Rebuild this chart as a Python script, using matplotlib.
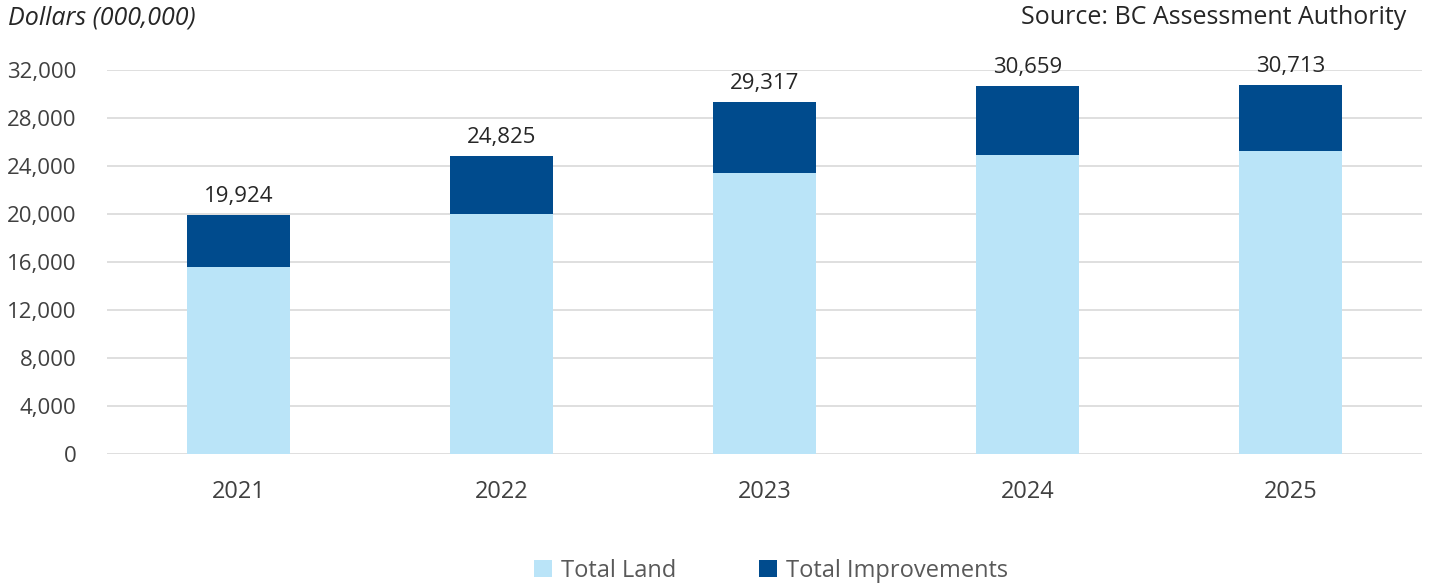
import matplotlib.pyplot as plt
from matplotlib.ticker import FuncFormatter

plt.rcParams['font.family'] = ['Open Sans', 'DejaVu Sans']

years = ['2021', '2022', '2023', '2024', '2025']
total_land = [15550, 19980, 23420, 24910, 25250]
totals = [19924, 24825, 29317, 30659, 30713]
total_improvements = [t - l for t, l in zip(totals, total_land)]

land_color = '#BAE4F8'
impr_color = '#004B8D'
text_color = '#404040'

fig = plt.figure(figsize=(14.32, 5.83), dpi=100)
ax = fig.add_axes([107 / 1432, 129 / 583, 1315 / 1432, 384 / 583])

x = range(len(years))
ax.bar(x, total_land, width=0.395, color=land_color, label='Total Land', zorder=3)
ax.bar(x, total_improvements, width=0.395, bottom=total_land, color=impr_color,
       label='Total Improvements', zorder=3)

# total value above each stacked bar
for xi, t in zip(x, totals):
    ax.annotate(f'{t:,}', (xi, t), xytext=(0, 6), textcoords='offset points',
                ha='center', va='bottom', fontsize=16, color='#262626')

ax.set_xlim(-0.5, len(years) - 0.5)
ax.set_ylim(0, 32000)
ax.set_yticks(range(0, 32001, 4000))
ax.yaxis.set_major_formatter(FuncFormatter(lambda v, p: f'{int(v):,}'))
ax.set_xticks(list(x))
ax.set_xticklabels(years)
ax.tick_params(axis='both', length=0, colors=text_color)
ax.tick_params(axis='x', pad=19, labelsize=17)
ax.tick_params(axis='y', pad=22, labelsize=16)
ax.grid(axis='y', color='#D9D9D9', linewidth=1.2, zorder=0)
for s in ax.spines.values():
    s.set_visible(False)

fig.text(8 / 1432, 1 - 18 / 583, 'Dollars (000,000)', fontsize=18, style='italic',
         color='#262626', va='center', ha='left')
fig.text(1406 / 1432, 1 - 18 / 583, 'Source: BC Assessment Authority', fontsize=18,
         color='#262626', va='center', ha='right')

fig.legend(loc='center', bbox_to_anchor=(771 / 1432, 1 - 571 / 583), ncol=2, frameon=False,
           fontsize=17, handlelength=0.75, handleheight=0.75, columnspacing=3.5,
           handletextpad=0.4, labelcolor='#595959')

fig.savefig('out.png', dpi=100)
plt.close(fig)
